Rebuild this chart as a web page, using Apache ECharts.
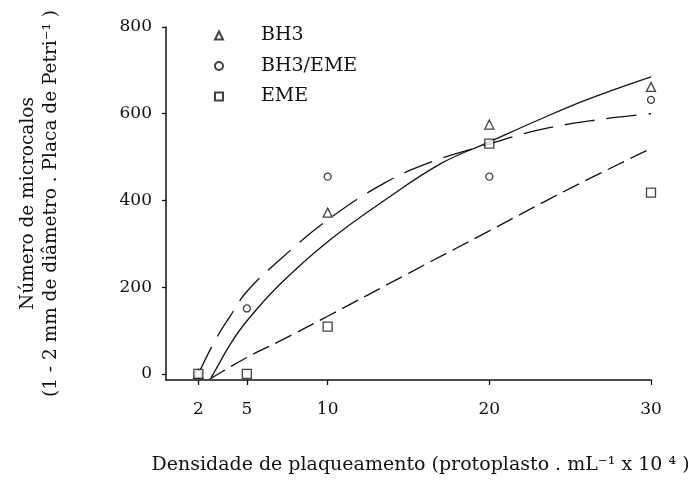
<!DOCTYPE html>
<html>
<head>
<meta charset="utf-8">
<script src="https://cdn.jsdelivr.net/npm/echarts@6/dist/echarts.min.js"></script>
<style>
  html, body { margin: 0; padding: 0; background: #fff; }
  #chart { width: 694px; height: 494px; }
</style>
</head>
<body>
<div id="chart"></div>
<script>
// doses on the x axis and the tick labels
var doses = [2, 5, 10, 20, 30];
var yTicks = [0, 200, 400, 600, 800];

// observed points (null = not plotted)
var bh3 = [0, null, 372, 575, 662];
var bh3Eme = [0, 151, 455, 455, 632];
var eme = [0, 0, 109, 531, 418];

// fitted curves
var solidX = [2.8, 3, 4, 5, 7, 10, 13.5, 17, 20, 23, 26, 30];
var solidY = [-8, 5, 70, 122, 205, 305, 400, 485, 535, 585, 632, 685];
var longX = [2, 3, 4, 5, 7, 10, 13.5, 16.5, 20, 23, 26.5, 30];
var longY = [0, 75, 135, 190, 262, 355, 440, 490, 530, 562, 585, 600];
var medX = [2.7, 5, 7, 10, 15, 20, 25, 30];
var medY = [-12, 38, 75, 133, 232, 330, 428, 520];

var font = 'DejaVu Serif';
var ink = '#111';

function pairs(xs, ys) {
  var out = [];
  for (var i = 0; i < xs.length; i++) {
    if (ys[i] !== null) out.push([xs[i], ys[i]]);
  }
  return out;
}

function pointSeries(name, symbol, size, vals) {
  return {
    name: name,
    type: 'scatter',
    symbol: symbol,
    symbolSize: size,
    z: 5,
    itemStyle: { color: '#fff', borderColor: ink, borderWidth: 1.3 },
    data: pairs(doses, vals)
  };
}

function curve(xs, ys, dash) {
  return {
    type: 'line',
    smooth: 0.4,
    showSymbol: false,
    symbol: 'none',
    silent: true,
    z: 3,
    lineStyle: { color: ink, width: 1.3, type: dash },
    data: pairs(xs, ys)
  };
}

var chart = echarts.init(document.getElementById('chart'));
chart.setOption({
  animation: false,
  backgroundColor: '#fff',
  textStyle: { fontFamily: font },
  grid: { left: 166, right: 43, top: 27, bottom: 114, containLabel: false, outerBoundsMode: 'none' },
  legend: {
    orient: 'vertical',
    left: 214,
    top: 26,
    padding: 0,
    itemWidth: 8,
    itemHeight: 8,
    itemGap: 11.5,
    textStyle: { fontFamily: font, fontSize: 19, color: ink, lineHeight: 19, padding: [0, 0, 0, 33] },
    data: ['BH3', 'BH3/EME', 'EME']
  },
  xAxis: {
    type: 'value',
    min: 0,
    max: 30,
    name: 'Densidade de plaqueamento (protoplasto . mL⁻¹ x 10 ⁴ )',
    nameLocation: 'middle',
    nameGap: 76,
    nameTextStyle: { fontFamily: font, fontSize: 19, color: ink, padding: [0, 0, 0, 24] },
    axisLine: { onZero: false, lineStyle: { color: ink, width: 1.5 } },
    axisTick: { customValues: doses, length: 5, lineStyle: { color: ink, width: 1.3 } },
    axisLabel: { customValues: doses, margin: 21, fontFamily: font, fontSize: 17, color: ink },
    splitLine: { show: false }
  },
  yAxis: {
    type: 'value',
    min: -14,
    max: 800,
    name: 'Número de microcalos\n(1 - 2 mm de diâmetro . Placa de Petri⁻¹ )',
    nameLocation: 'middle',
    nameRotate: 90,
    nameGap: 103,
    nameTextStyle: { fontFamily: font, fontSize: 18.5, color: ink, lineHeight: 23 },
    axisLine: { lineStyle: { color: ink, width: 1.5 } },
    axisTick: { customValues: yTicks, length: 4, lineStyle: { color: ink, width: 1.3 } },
    axisLabel: { customValues: yTicks, margin: 14, fontFamily: font, fontSize: 17, color: ink },
    splitLine: { show: false }
  },
  series: [
    curve(solidX, solidY, 'solid'),
    curve(longX, longY, [30, 12]),
    curve(medX, medY, [18, 7]),
    pointSeries('BH3', 'triangle', 9, bh3),
    pointSeries('BH3/EME', 'circle', 7, bh3Eme),
    pointSeries('EME', 'rect', 9, eme)
  ]
});
</script>
</body>
</html>
